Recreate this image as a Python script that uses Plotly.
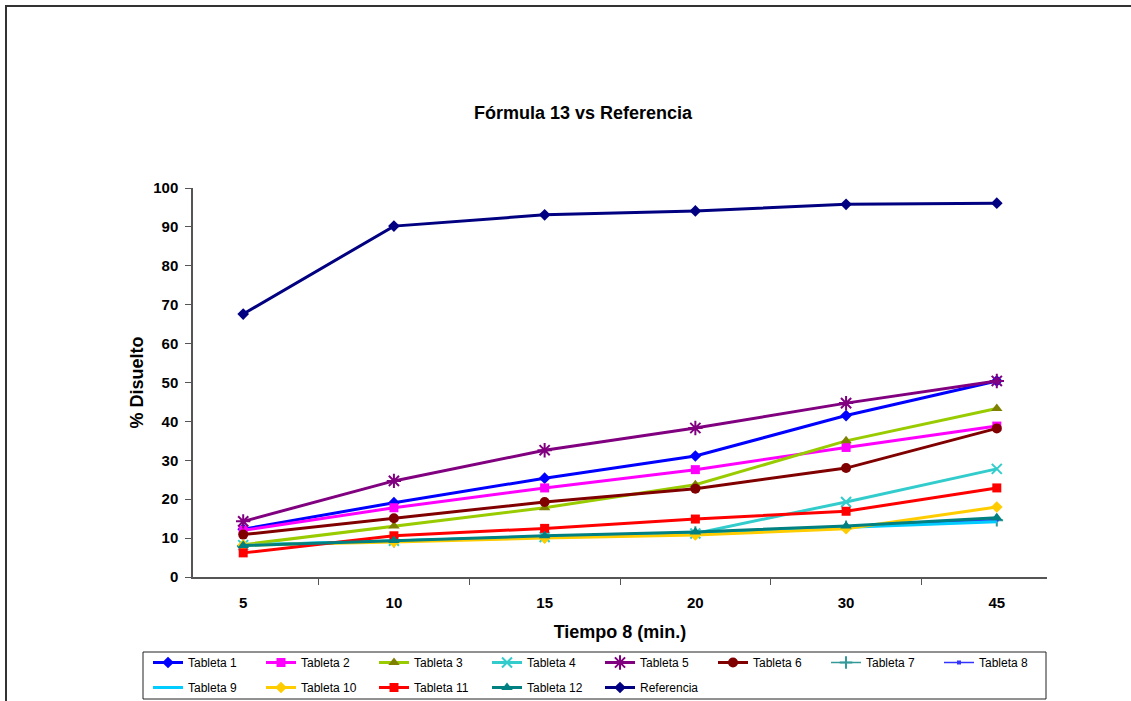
import plotly.graph_objects as go

tiempos = ["5", "10", "15", "20", "30", "45"]

tableta_1 = [12.3, 19.1, 25.4, 31.1, 41.5, 50.4]
tableta_2 = [12.0, 17.8, 22.9, 27.6, 33.3, 38.8]
tableta_3 = [8.3, 13.1, 17.8, 23.7, 35.0, 43.3]
tableta_4 = [8.2, 9.3, 10.3, 11.2, 19.3, 27.8]
tableta_5 = [14.3, 24.7, 32.6, 38.3, 44.7, 50.4]
tableta_6 = [10.9, 15.1, 19.3, 22.7, 28.0, 38.2]
tableta_7 = [8.0, 9.2, 10.4, 11.4, 12.9, 14.6]
tableta_8 = [8.1, 9.3, 10.3, 11.5, 13.0, 14.8]
tableta_9 = [8.2, 9.3, 10.3, 11.3, 12.8, 14.2]
tableta_10 = [8.2, 9.0, 10.0, 10.8, 12.4, 18.0]
tableta_11 = [6.2, 10.6, 12.5, 14.9, 16.9, 22.9]
tableta_12 = [8.1, 9.4, 10.6, 11.6, 13.1, 15.2]
referencia = [67.6, 90.2, 93.1, 94.1, 95.8, 96.1]

series = [
    ("Tableta 1", tableta_1, "#0000FF", 3, "diamond", 9, "#0000FF"),
    ("Tableta 2", tableta_2, "#FF00FF", 3, "square", 9, "#FF00FF"),
    ("Tableta 3", tableta_3, "#99CC00", 3, "triangle-up", 10, "#808000"),
    ("Tableta 4", tableta_4, "#33CCCC", 3, "x-thin-open", 10, "#33CCCC"),
    ("Tableta 5", tableta_5, "#800080", 3, "asterisk-open", 12, "#800080"),
    ("Tableta 6", tableta_6, "#800000", 3, "circle", 10, "#800000"),
    ("Tableta 7", tableta_7, "#339999", 1.5, "cross-thin-open", 9, "#339999"),
    ("Tableta 8", tableta_8, "#3333FF", 1.5, "square", 4, "#3333FF"),
    ("Tableta 9", tableta_9, "#00CCFF", 3, None, 0, "#00CCFF"),
    ("Tableta 10", tableta_10, "#FFCC00", 3, "diamond", 9, "#FFCC00"),
    ("Tableta 11", tableta_11, "#FF0000", 3, "square", 9, "#FF0000"),
    ("Tableta 12", tableta_12, "#008080", 3, "triangle-up", 10, "#008080"),
    ("Referencia", referencia, "#000080", 3, "diamond", 9, "#000080"),
]

legend_of = ["legend"] * 4 + ["legend3"] * 4 + ["legend2"] * 5

fig = go.Figure()
for i, (name, vals, color, lw, sym, msize, mcolor) in enumerate(series):
    mode = "lines+markers" if sym else "lines"
    marker = dict(symbol=sym, size=msize, color=mcolor,
                  line=dict(color=mcolor, width=2 if "open" in (sym or "") else 0)) if sym else None
    fig.add_trace(go.Scatter(
        x=tiempos, y=vals, name=name, mode=mode,
        line=dict(color=color, width=lw),
        marker=marker,
        legend=legend_of[i],
    ))

W, H = 1131, 701
L, R, T, B = 193, 84, 188, 124
pw, ph = W - L - R, H - T - B

def px_x(x):
    return (x - L) / pw

def px_y(y):
    return (H - B - y) / ph

font_family = "Liberation Sans, Arial, sans-serif"
bold = dict(family=font_family, color="black", weight="bold")

def leg(x_px, y_px):
    return dict(orientation="h", x=x_px / W, y=1 - y_px / H, xref="container", yref="container",
                xanchor="left", yanchor="top",
                entrywidth=68, entrywidthmode="pixels", borderwidth=0, bgcolor="rgba(0,0,0,0)",
                font=dict(size=12, family=font_family, color="black"), traceorder="normal")

fig.update_layout(
    width=W, height=H,
    margin=dict(l=L, r=R, t=T, b=B, autoexpand=False),
    paper_bgcolor="white", plot_bgcolor="white",
    font=dict(family=font_family, color="black"),
    title=dict(text="Fórmula 13 vs Referencia", x=px_x(583), xref="paper",
               y=1 - 113 / H, yref="container", xanchor="center", yanchor="middle",
               font=dict(size=18, **bold)),
    xaxis=dict(
        type="category", showgrid=False, zeroline=False,
        showline=True, linecolor="#555555", linewidth=1.5,
        ticks="outside", ticklen=6, tickcolor="#555555", tickson="boundaries",
        tickfont=dict(size=15, **bold),
        ticklabelstandoff=11,
        title=dict(text="Tiempo 8 (min.)", font=dict(size=18, **bold), standoff=16),
    ),
    yaxis=dict(
        range=[0, 100], dtick=10, showgrid=False, zeroline=False,
        showline=True, linecolor="#555555", linewidth=1.5,
        ticks="outside", ticklen=6, tickcolor="#555555",
        tickfont=dict(size=15, **bold),
        ticklabelstandoff=4,
        title=dict(text="% Disuelto", font=dict(size=18, **bold), standoff=5),
    ),
    legend=leg(148, 648),
    legend3=leg(148 + 4 * 113, 648),
    legend2=leg(148, 673),
    shapes=[
        dict(type="rect", xref="paper", yref="paper",
             x0=px_x(143), x1=px_x(1046), y0=px_y(699), y1=px_y(652),
             line=dict(color="#222222", width=1), fillcolor="rgba(0,0,0,0)", layer="below"),
        dict(type="rect", xref="paper", yref="paper",
             x0=px_x(6), x1=px_x(1140), y0=px_y(710), y1=px_y(6),
             line=dict(color="#333333", width=2), fillcolor="rgba(0,0,0,0)", layer="below"),
    ],
)

fig.write_html("out.html")
